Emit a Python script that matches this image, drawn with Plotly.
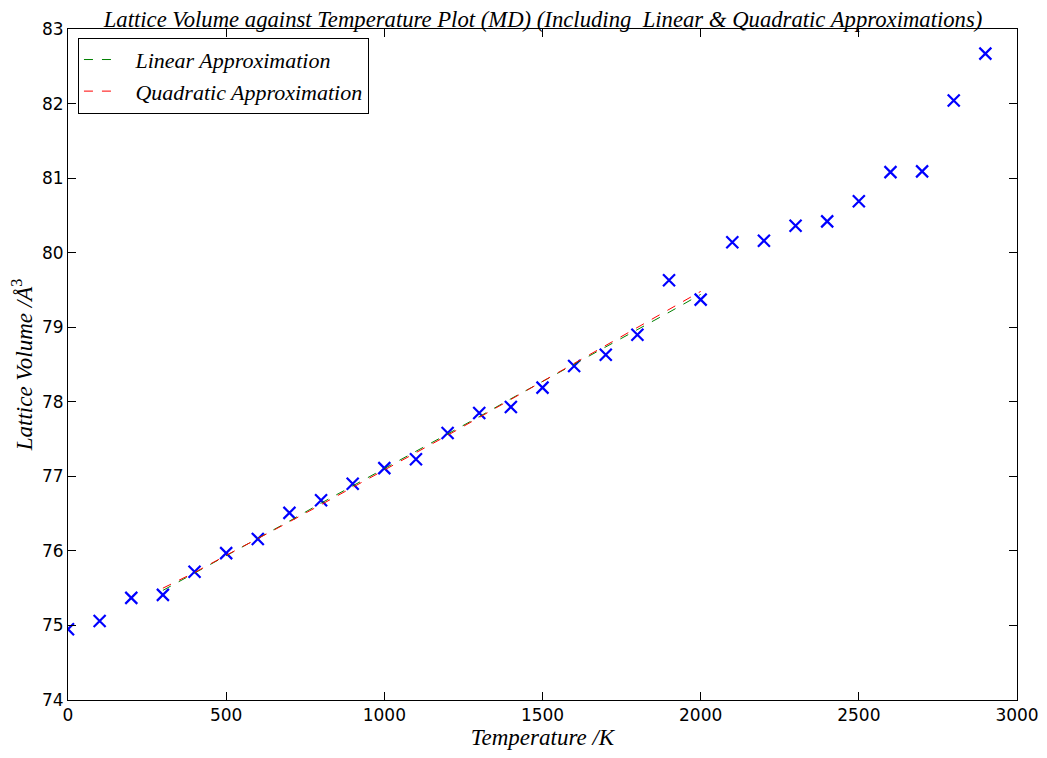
import plotly.graph_objects as go

temps = [0, 100, 200, 300, 400, 500, 600, 700, 800, 900, 1000, 1100, 1200, 1300, 1400,
         1500, 1600, 1700, 1800, 1900, 2000, 2100, 2200, 2300, 2400, 2500, 2600, 2700, 2800, 2900]
volumes = [74.95, 75.06, 75.37, 75.41, 75.72, 75.97, 76.16, 76.51, 76.68, 76.90, 77.11, 77.23,
           77.58, 77.85, 77.93, 78.19, 78.48, 78.63, 78.90, 79.63, 79.37, 80.14, 80.16, 80.36,
           80.42, 80.69, 81.08, 81.09, 82.04, 82.67]

fit_temps = [300, 400, 500, 600, 700, 800, 900, 1000, 1100, 1200, 1300, 1400, 1500, 1600,
             1700, 1800, 1900, 2000]
linear_fit = [75.47, 75.70, 75.94, 76.17, 76.40, 76.64, 76.87, 77.10, 77.34, 77.57, 77.80,
              78.04, 78.27, 78.50, 78.74, 78.97, 79.20, 79.44]
quad_fit = [75.50, 75.71, 75.94, 76.16, 76.39, 76.62, 76.85, 77.08, 77.32, 77.55, 77.79,
            78.03, 78.27, 78.51, 78.75, 79.00, 79.24, 79.48]

serif = "Liberation Serif, DejaVu Serif, serif"
sans = "DejaVu Sans, sans-serif"

fig = go.Figure()
fig.add_trace(go.Scatter(x=temps, y=volumes, mode="markers", showlegend=False,
                         marker=dict(symbol="x-thin", size=12, color="blue",
                                     line=dict(width=2.2, color="blue"))))
fig.add_trace(go.Scatter(x=fit_temps, y=linear_fit, mode="lines",
                         name="&nbsp;&nbsp;&nbsp;<i>Linear Approximation</i>",
                         line=dict(color="green", width=1, dash="dash")))
fig.add_trace(go.Scatter(x=fit_temps, y=quad_fit, mode="lines",
                         name="&nbsp;&nbsp;&nbsp;<i>Quadratic Approximation</i>",
                         line=dict(color="red", width=1, dash="dash")))

axis_common = dict(showgrid=False, zeroline=False, showline=True, linecolor="black",
                   linewidth=1, mirror="ticks", ticks="inside", ticklen=8, tickcolor="black",
                   automargin=False,
                   tickfont=dict(family=sans, size=17, color="black"))

fig.update_layout(
    width=1047, height=758,
    margin=dict(l=60, r=38, t=21, b=66),
    paper_bgcolor="white", plot_bgcolor="white",
    title=dict(text="<i>Lattice Volume against Temperature Plot (MD) (Including  Linear &amp; Quadratic Approximations)</i>",
               x=0.511, xanchor="center", y=0.9855, yanchor="middle",
               font=dict(family=serif, size=22.7, color="black")),
    xaxis=dict(range=[0, 3000], dtick=500, tick0=0,
               title=dict(text="<i>Temperature /K</i>", font=dict(family=serif, size=23, color="black"),
                          standoff=4),
               **axis_common),
    yaxis=dict(range=[74, 83], dtick=1, tick0=74,
               title=dict(text="<i>Lattice Volume /Å</i><sup>3</sup>",
                          font=dict(family=serif, size=23, color="black"), standoff=6),
               **axis_common),
    legend=dict(x=0.0105, y=0.987, xanchor="left", yanchor="top",
                bordercolor="black", borderwidth=1, bgcolor="white",
                font=dict(family=serif, size=22, color="black"),
                tracegroupgap=2),
    showlegend=True,
)

fig.write_html("out.html")
